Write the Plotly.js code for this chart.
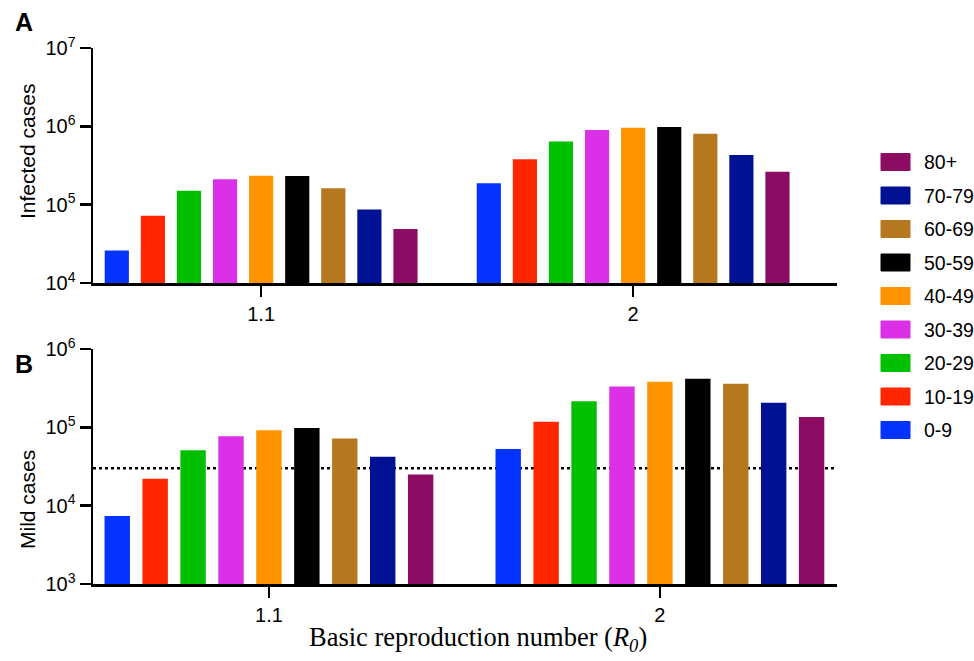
<!DOCTYPE html>
<html>
<head>
<meta charset="utf-8">
<script src="https://cdn.plot.ly/plotly-3.0.1.min.js"></script>
<style>html,body{margin:0;padding:0;background:#fff;}#chart{width:974px;height:661px;}</style>
</head>
<body>
<div id="chart"></div>
<script>
// ---- data ----
const categories = ['1.1', '2'];
const ageGroups = ['0-9', '10-19', '20-29', '30-39', '40-49', '50-59', '60-69', '70-79', '80+'];
const colors = ['#0433FF', '#FF2600', '#00C000', '#DC30E8', '#FF9300', '#000000', '#B5781E', '#011193', '#8B0C62'];
const infectedR11 = [26000, 72000, 151000, 211000, 234000, 232000, 162000, 87000, 49000];
const infectedR2 = [188000, 380000, 638000, 900000, 962000, 982000, 807000, 431000, 264000];
const mildR11 = [7400, 22000, 51000, 77000, 92000, 98000, 72000, 42000, 25000];
const mildR2 = [53000, 118000, 216000, 333000, 382000, 417000, 360000, 206000, 135000];
const mildThreshold = 30000;
const topTickVals = [1e4, 1e5, 1e6, 1e7];
const topTickText = ['10<sup>4</sup>', '10<sup>5</sup>', '10<sup>6</sup>', '10<sup>7</sup>'];
const botTickVals = [1e3, 1e4, 1e5, 1e6];
const botTickText = ['10<sup>3</sup>', '10<sup>4</sup>', '10<sup>5</sup>', '10<sup>6</sup>'];
const topTitle = 'Infected cases';
const botTitle = 'Mild cases';
const xTitle = 'Basic reproduction number (<i>R<sub>0</sub></i>)';

// ---- geometry helpers (page pixels -> paper) ----
const W = 974, H = 661;
const M = {l: 93, r: 137, t: 48, b: 77};
const PW = W - M.l - M.r, PH = H - M.t - M.b;
const px2x = p => (p - M.l) / PW;
const px2y = p => (H - M.b - p) / PH;

const sans = 'Liberation Sans, Arial, Helvetica, sans-serif';
const serif = 'Liberation Serif, Times New Roman, serif';

const traces = [];
ageGroups.forEach((g, i) => {
  traces.push({
    type: 'bar', name: g, x: categories, y: [infectedR11[i], infectedR2[i]],
    xaxis: 'x', yaxis: 'y', marker: {color: colors[i], line: {width: 0}},
    showlegend: false, hoverinfo: 'name+y'
  });
  traces.push({
    type: 'bar', name: g, x: categories, y: [mildR11[i], mildR2[i]],
    xaxis: 'x2', yaxis: 'y2', marker: {color: colors[i], line: {width: 0}},
    showlegend: false, hoverinfo: 'name+y'
  });
});

const axisCommon = {
  showline: true, linecolor: '#000', linewidth: 2.5,
  ticks: 'outside', ticklen: 11, tickwidth: 2.5, tickcolor: '#000',
  showgrid: false, zeroline: false,
  tickfont: {family: sans, size: 20, color: '#000'}
};

const annotations = [
  {text: '<b>A</b>', x: px2x(24), y: px2y(22), xref: 'paper', yref: 'paper', showarrow: false,
   xanchor: 'center', yanchor: 'middle', font: {family: sans, size: 25, color: '#000'}},
  {text: '<b>B</b>', x: px2x(24), y: px2y(364), xref: 'paper', yref: 'paper', showarrow: false,
   xanchor: 'center', yanchor: 'middle', font: {family: sans, size: 25, color: '#000'}},
  {text: topTitle, x: px2x(27), y: px2y(152), xref: 'paper', yref: 'paper', showarrow: false,
   textangle: -90, xanchor: 'center', yanchor: 'middle', font: {family: sans, size: 21, color: '#000'}},
  {text: botTitle, x: px2x(27), y: px2y(500), xref: 'paper', yref: 'paper', showarrow: false,
   textangle: -90, xanchor: 'center', yanchor: 'middle', font: {family: sans, size: 21, color: '#000'}},
  {text: xTitle, x: px2x(478), y: px2y(639), xref: 'paper', yref: 'paper', showarrow: false,
   xanchor: 'center', yanchor: 'middle', font: {family: serif, size: 26.5, color: '#000'}}
];

const shapes = [
  {type: 'line', xref: 'x2 domain', yref: 'y2', x0: 0, x1: 1, y0: mildThreshold, y1: mildThreshold,
   line: {color: '#000', width: 2.5, dash: 'dot'}, layer: 'below'}
];

// custom legend (reversed order, 80+ on top)
const legendOrder = ageGroups.map((g, i) => i).reverse();
legendOrder.forEach((idx, row) => {
  const cy = 162 + row * 33.5;
  shapes.push({type: 'rect', xref: 'paper', yref: 'paper',
    x0: px2x(881), x1: px2x(910), y0: px2y(cy + 8.5), y1: px2y(cy - 8.5),
    fillcolor: colors[idx], line: {color: colors[idx], width: 1}});
  annotations.push({text: ageGroups[idx], x: px2x(922), y: px2y(cy), xref: 'paper', yref: 'paper',
    showarrow: false, xanchor: 'left', yanchor: 'middle', font: {family: sans, size: 19.5, color: '#000'}});
});

const layout = {
  width: W, height: H,
  margin: M,
  paper_bgcolor: '#fff', plot_bgcolor: '#fff',
  barmode: 'group', bargap: 0.127, bargroupgap: 0.33,
  showlegend: false,
  xaxis: Object.assign({}, axisCommon, {anchor: 'y', domain: [0, 1], type: 'category', range: [-0.452, 1.548]}),
  yaxis: Object.assign({}, axisCommon, {anchor: 'x', domain: [px2y(283), 1], type: 'log', range: [4, 7],
    tickvals: topTickVals, ticktext: topTickText}),
  xaxis2: Object.assign({}, axisCommon, {anchor: 'y2', domain: [0, 1], type: 'category', range: [-0.45, 1.453]}),
  yaxis2: Object.assign({}, axisCommon, {anchor: 'x2', domain: [0, px2y(349)], type: 'log', range: [3, 6],
    tickvals: botTickVals, ticktext: botTickText}),
  annotations: annotations,
  shapes: shapes
};

Plotly.newPlot('chart', traces, layout, {displayModeBar: false, staticPlot: true});
</script>
</body>
</html>
